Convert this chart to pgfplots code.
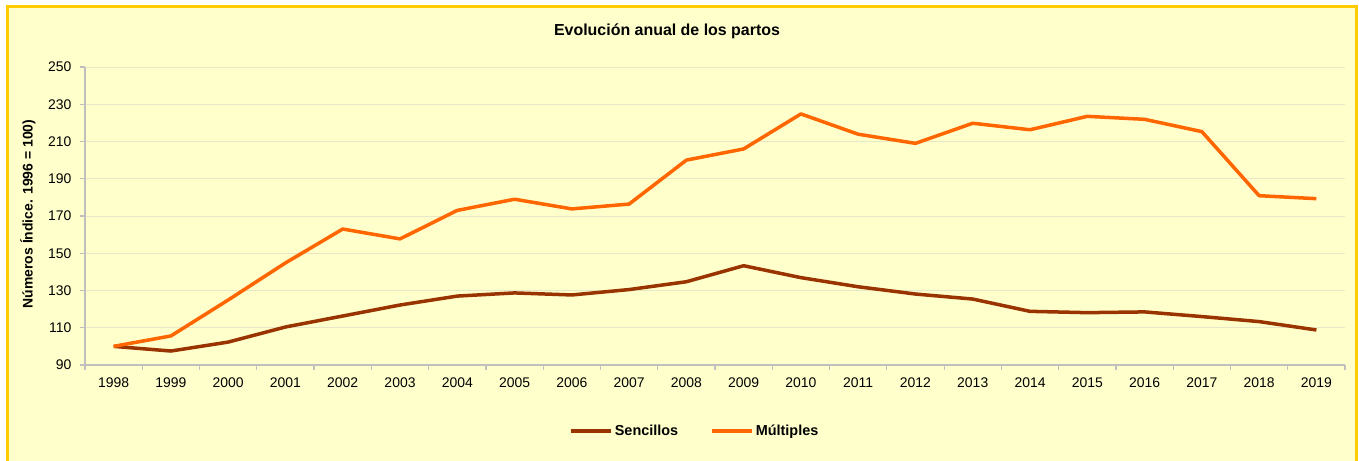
\documentclass[border=0pt]{standalone}
\usepackage{fontspec}
\setmainfont{Liberation Sans}
\usepackage{pgfplots}
\pgfplotsset{compat=1.18}
\definecolor{bgc}{HTML}{FFFFCC}
\definecolor{brd}{HTML}{FFCC00}
\definecolor{sen}{HTML}{993300}
\definecolor{mul}{HTML}{FF6600}
\definecolor{axc}{HTML}{BFBFBF}
\definecolor{grc}{HTML}{E8E8C8}
\begin{document}
\begin{tikzpicture}[x=1bp,y=1bp]
\path[use as bounding box] (0,0) rectangle (1359,461);
\fill[white] (0,0) rectangle (1359,461);
\begin{scope}
\clip (0,0) rectangle (1359,461);
\filldraw[fill=bgc,draw=brd,line width=3bp] (7,454) rectangle (1356,-10);
\end{scope}
\node[font=\bfseries\fontsize{16}{18}\selectfont] at (667,430) {Evolución anual de los partos};
\node[font=\bfseries\fontsize{14}{16}\selectfont, rotate=90] at (28,247) {Números Índice. 1996 = 100)};
\begin{axis}[
  at={(85bp,96bp)}, anchor=south west,
  scale only axis, width=1260bp, height=298bp,
  xmin=-0.5, xmax=21.5, ymin=90, ymax=250,
  ytick={90,110,...,250},
  xtick={-0.5,0.5,...,21.5}, xticklabels={},
  extra x ticks={0,...,21},
  extra x tick labels={1998,1999,2000,2001,2002,2003,2004,2005,2006,2007,2008,2009,2010,2011,2012,2013,2014,2015,2016,2017,2018,2019},
  extra x tick style={major tick length=0pt, grid=none},
  x tick label style={yshift=-9bp},
  y tick label style={xshift=-5bp},
  axis x line*=bottom, axis y line*=left,
  axis line style={axc, line width=1.3bp, -},
  tick align=outside, major tick length=5bp,
  tick style={axc, line width=1.2bp},
  ymajorgrids, grid style={grc, line width=0.7bp},
  ticklabel style={font=\fontsize{14}{16}\selectfont},
  /pgf/number format/assume math mode=true,
  legend columns=2,
  legend style={draw=none, fill=none, at={(0.484,-0.2215)}, anchor=center,
    font=\bfseries\fontsize{14.5}{16}\selectfont,
    /tikz/every even column/.append style={column sep=30bp}},
  legend image code/.code={\draw[#1] (0bp,0bp) -- (40bp,0bp);},
]
\addplot[sen, line width=3.5bp, line join=round] coordinates {
(0,100) (1,97.5) (2,102.3) (3,110.4) (4,116.3) (5,122.2) (6,127) (7,128.7) (8,127.6) (9,130.5) (10,134.7) (11,143.3) (12,136.9) (13,132) (14,128.1) (15,125.4) (16,118.8) (17,118.1) (18,118.5) (19,116) (20,113.3) (21,108.8)};
\addlegendentry{Sencillos}
\addplot[mul, line width=3.5bp, line join=round] coordinates {
(0,100) (1,105.6) (2,124.9) (3,144.8) (4,163) (5,157.7) (6,173) (7,179) (8,173.8) (9,176.4) (10,200) (11,206) (12,224.8) (13,213.9) (14,209) (15,219.8) (16,216.3) (17,223.5) (18,221.9) (19,215.3) (20,180.9) (21,179.3)};
\addlegendentry{Múltiples}
\end{axis}
\end{tikzpicture}
\end{document}
